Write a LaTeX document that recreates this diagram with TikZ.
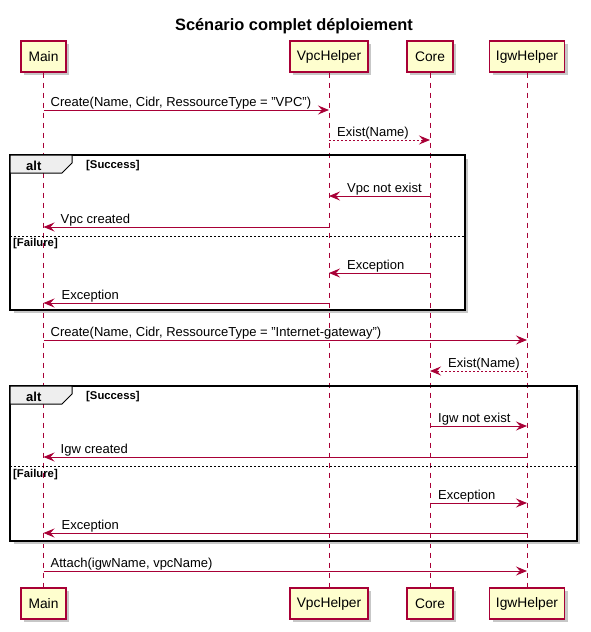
\documentclass[tikz,border=0pt]{standalone}
\usepackage{fontspec}
\setmainfont{Liberation Sans}
\usetikzlibrary{arrows.meta,shadows}
\definecolor{pu}{HTML}{A80036}
\definecolor{pufill}{HTML}{FEFECE}
\definecolor{tabfill}{HTML}{EEEEEE}
\begin{document}
\begin{tikzpicture}[x=1pt,y=-1pt,
 part/.style={draw=pu, fill=pufill, line width=1.2pt, minimum height=31pt, inner sep=0pt,
   font=\fontsize{13.8}{16}\selectfont,
   drop shadow={shadow xshift=3pt, shadow yshift=-3pt, fill=black!22, opacity=1}},
 life/.style={draw=pu, line width=0.8pt, dash pattern=on 5pt off 5pt},
 msg/.style={draw=pu, line width=1pt, -{Stealth[length=11pt,width=9pt,inset=4pt]}},
 reply/.style={msg, dash pattern=on 2pt off 2pt},
 lbl/.style={anchor=base west, inner sep=0pt, font=\fontsize{13}{15}\selectfont},
 grp/.style={draw=black, line width=1.5pt},
 grpshadow/.style={draw=black!22, line width=3pt},
 tab/.style={draw=black, line width=1pt, fill=tabfill},
 tabtxt/.style={anchor=base west, inner sep=0pt, font=\bfseries\fontsize{13}{15}\selectfont},
 cond/.style={anchor=base west, inner sep=0pt, font=\bfseries\fontsize{11.3}{13}\selectfont},
 divider/.style={draw=black, line width=0.8pt, dash pattern=on 2pt off 2pt}
]
\useasboundingbox (0,0) rectangle (590,632);

% title
\node[anchor=base, inner sep=0pt, font=\bfseries\fontsize{16.4}{19}\selectfont] (title) at (294,30) {Scénario complet déploiement};

% participants
\node[part, minimum width=45pt] (mT) at (43.5,56.5) {Main};
\node[part, minimum width=78pt] (vT) at (329,56.5) {VpcHelper};
\node[part, minimum width=46pt] (cT) at (430,56.5) {Core};
\node[part, minimum width=75pt] (iT) at (527,56.5) {IgwHelper};
\node[part, minimum width=45pt] (mB) at (43.5,603.5) {Main};
\node[part, minimum width=78pt] (vB) at (329,603.5) {VpcHelper};
\node[part, minimum width=46pt] (cB) at (430,603.5) {Core};
\node[part, minimum width=75pt] (iB) at (527,603.5) {IgwHelper};

% lifelines
\draw[life] (mT.south) -- (mB.north);
\draw[life] (vT.south) -- (vB.north);
\draw[life] (cT.south) -- (cB.north);
\draw[life] (iT.south) -- (iB.north);

% group 1
\draw[grpshadow] (14,311.5) -- (466.5,311.5) -- (466.5,159);
\draw[grp] (10,155) rectangle (465,310);
\draw[tab] (10,155) -- (72,155) -- (72,163) -- (62,173) -- (10,173) -- cycle;
\node[tabtxt] (alt1) at (26,170) {alt};
\node[cond] (succ1) at (86,168) {[Success]};
\draw[divider] (10,236) -- (465,236);
\node[cond] (fail1) at (13,246) {[Failure]};

% group 2
\draw[grpshadow] (14,542.5) -- (578.5,542.5) -- (578.5,390);
\draw[grp] (10,386) rectangle (577,541);
\draw[tab] (10,386) -- (72,386) -- (72,394) -- (62,404) -- (10,404) -- cycle;
\node[tabtxt] (alt2) at (26,401) {alt};
\node[cond] (succ2) at (86,399) {[Success]};
\draw[divider] (10,466) -- (577,466);
\node[cond] (fail2) at (13,477) {[Failure]};

% messages
\draw[msg] (mT |- 0,110) -- (vT |- 0,110);
\path (mT |- 0,110) ++(7,-4) node[lbl] {Create(Name, Cidr, RessourceType = "VPC")};

\draw[reply] (vT |- 0,140) -- (cT |- 0,140);
\path (vT |- 0,140) ++(8,-4) node[lbl] {Exist(Name)};

\draw[msg] (cT |- 0,196) -- (vT |- 0,196);
\path (vT |- 0,196) ++(18,-4) node[lbl] {Vpc not exist};

\draw[msg] (vT |- 0,227) -- (mT |- 0,227);
\path (mT |- 0,227) ++(17,-4) node[lbl] {Vpc created};

\draw[msg] (cT |- 0,273) -- (vT |- 0,273);
\path (vT |- 0,273) ++(18,-4) node[lbl] {Exception};

\draw[msg] (vT |- 0,303) -- (mT |- 0,303);
\path (mT |- 0,303) ++(18,-4) node[lbl] {Exception};

\draw[msg] (mT |- 0,340) -- (iT |- 0,340);
\path (mT |- 0,340) ++(7,-4) node[lbl] {Create(Name, Cidr, RessourceType = "Internet-gateway")};

\draw[reply] (iT |- 0,371) -- (cT |- 0,371);
\path (cT |- 0,371) ++(18,-4) node[lbl] {Exist(Name)};

\draw[msg] (cT |- 0,426) -- (iT |- 0,426);
\path (cT |- 0,426) ++(8,-4) node[lbl] {Igw not exist};

\draw[msg] (iT |- 0,457) -- (mT |- 0,457);
\path (mT |- 0,457) ++(17,-4) node[lbl] {Igw created};

\draw[msg] (cT |- 0,503) -- (iT |- 0,503);
\path (cT |- 0,503) ++(8,-4) node[lbl] {Exception};

\draw[msg] (iT |- 0,533) -- (mT |- 0,533);
\path (mT |- 0,533) ++(18,-4) node[lbl] {Exception};

\draw[msg] (mT |- 0,571) -- (iT |- 0,571);
\path (mT |- 0,571) ++(7,-4) node[lbl] {Attach(igwName, vpcName)};
\end{tikzpicture}
\end{document}
